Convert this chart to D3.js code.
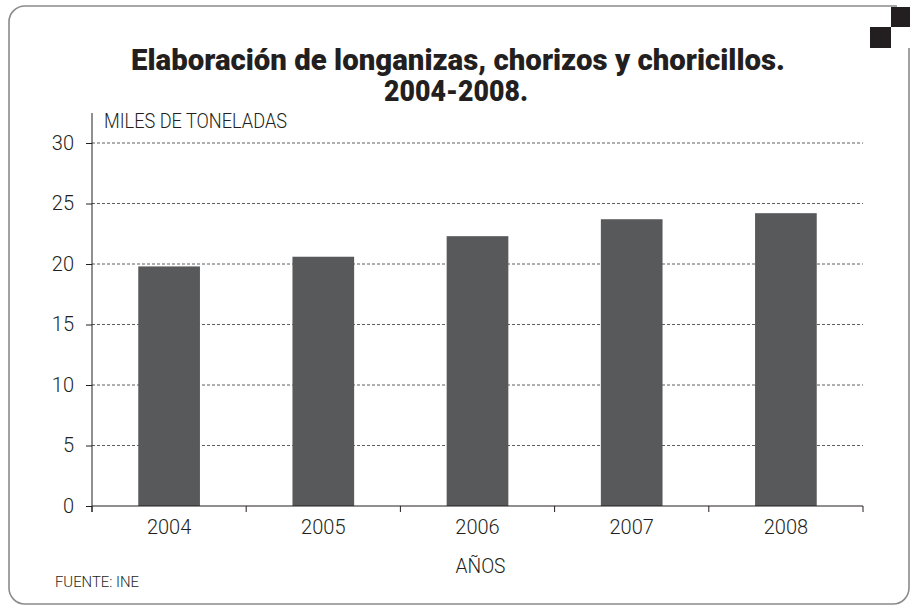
<!DOCTYPE html>
<html>
<head>
<meta charset="utf-8">
<script src="https://cdn.jsdelivr.net/npm/d3@7"></script>
<style>
  html, body { margin: 0; padding: 0; background: #fff; }
  svg { display: block; }
</style>
</head>
<body>
<script>
// data
var years = ["2004", "2005", "2006", "2007", "2008"];
var toneladas = [19.8, 20.6, 22.3, 23.7, 24.2];
var yTicks = [0, 5, 10, 15, 20, 25, 30];

var titleLines = ["Elaboración de longanizas, chorizos y choricillos.", "2004-2008."];
var yLabel = "MILES DE TONELADAS";
var xLabel = "AÑOS";
var fuente = "FUENTE: INE";

var W = 914, H = 606;
var margin = {top: 143, right: 51, bottom: 100, left: 92};
var width = W - margin.left - margin.right,
    height = H - margin.top - margin.bottom;

var font = "Roboto, 'Liberation Sans', sans-serif";
var ink = "#231f20";

var svg = d3.select("body").append("svg")
    .attr("width", W)
    .attr("height", H);

// frame with rounded corners
svg.append("path")
    .attr("d", "M9,22 A16,16 0 0 1 25,6 L897,6")
    .attr("fill", "none").attr("stroke", "#8a8a8a").attr("stroke-width", 1.6);
svg.append("path")
    .attr("d", "M909,48 L909,588 A16,16 0 0 1 893,604 L25,604 A16,16 0 0 1 9,588 L9,22")
    .attr("fill", "none").attr("stroke", "#8a8a8a").attr("stroke-width", 1.6);

// two corner squares
svg.append("rect").attr("x", 891).attr("y", 7).attr("width", 19).attr("height", 20).attr("fill", ink);
svg.append("rect").attr("x", 870).attr("y", 27).attr("width", 21).attr("height", 21).attr("fill", ink);

// title (heavy, condensed)
var title = svg.append("g").attr("id", "title");
title.append("text")
    .attr("x", 458).attr("y", 70)
    .attr("text-anchor", "middle")
    .style("font-family", font).style("font-weight", 900).style("font-size", "29px")
    .attr("textLength", 654).attr("lengthAdjust", "spacingAndGlyphs")
    .attr("fill", ink)
    .text(titleLines[0]);
title.append("text")
    .attr("x", 456).attr("y", 101)
    .attr("text-anchor", "middle")
    .style("font-family", font).style("font-weight", 900).style("font-size", "29px")
    .attr("textLength", 144).attr("lengthAdjust", "spacingAndGlyphs")
    .attr("fill", ink)
    .text(titleLines[1]);

var g = svg.append("g")
    .attr("transform", "translate(" + margin.left + "," + margin.top + ")");

var x = d3.scaleBand()
    .domain(years)
    .range([0, width])
    .paddingInner(0.6)
    .paddingOuter(0.3);

var y = d3.scaleLinear()
    .domain([0, 30])
    .range([height, 0]);

// dashed gridlines
g.append("g").attr("class", "grid")
  .selectAll("line")
  .data(yTicks.filter(function(d) { return d > 0; }))
  .enter().append("line")
    .attr("x1", 0).attr("x2", width)
    .attr("y1", function(d) { return y(d); })
    .attr("y2", function(d) { return y(d); })
    .attr("stroke", "#5f5f5f")
    .attr("stroke-width", 1)
    .attr("stroke-dasharray", "3,2");

// bars
g.append("g").attr("class", "bars")
  .selectAll("rect")
  .data(years)
  .enter().append("rect")
    .attr("x", function(d) { return x(d); })
    .attr("width", x.bandwidth())
    .attr("y", function(d, i) { return y(toneladas[i]); })
    .attr("height", function(d, i) { return height - y(toneladas[i]); })
    .attr("fill", "#58595b");

// y axis
var yAxis = g.append("g")
    .call(d3.axisLeft(y).tickValues(yTicks).tickSize(6).tickPadding(12));
yAxis.select(".domain").remove();
yAxis.selectAll(".tick line").attr("stroke", ink);
yAxis.selectAll(".tick text")
    .attr("fill", ink)
    .style("font-family", font).style("font-weight", 300).style("font-size", "20px");
// axis line runs up past the 30 tick to the unit label
g.append("line")
    .attr("x1", 0).attr("x2", 0)
    .attr("y1", y(30) - 30).attr("y2", height + 6)
    .attr("stroke", ink).attr("stroke-width", 1);

// x axis
var xAxis = g.append("g")
    .attr("transform", "translate(0," + height + ")")
    .call(d3.axisBottom(x).tickSize(0).tickPadding(14));
xAxis.select(".domain").attr("stroke", ink).attr("d", "M0,0H" + width);
xAxis.selectAll(".tick text")
    .attr("fill", ink)
    .style("font-family", font).style("font-weight", 300).style("font-size", "20px");
// ticks between categories
xAxis.selectAll(".sep")
    .data(d3.range(years.length + 1))
    .enter().append("line")
    .attr("class", "sep")
    .attr("x1", function(i) { return i * x.step(); })
    .attr("x2", function(i) { return i * x.step(); })
    .attr("y1", 0).attr("y2", 6)
    .attr("stroke", ink);

// labels
g.append("text")
    .attr("x", 12).attr("y", y(30) - 15)
    .style("font-family", font).style("font-weight", 300).style("font-size", "20px")
    .attr("textLength", 183).attr("lengthAdjust", "spacingAndGlyphs")
    .attr("fill", ink)
    .text(yLabel);

g.append("text")
    .attr("x", x("2006") + x.bandwidth() / 2 + 3)
    .attr("y", height + 67)
    .attr("text-anchor", "middle")
    .style("font-family", font).style("font-weight", 300).style("font-size", "20px")
    .attr("textLength", 50).attr("lengthAdjust", "spacingAndGlyphs")
    .attr("fill", ink)
    .text(xLabel);

svg.append("text")
    .attr("x", 55).attr("y", 587)
    .style("font-family", font).style("font-weight", 300).style("font-size", "15px")
    .attr("textLength", 84).attr("lengthAdjust", "spacingAndGlyphs")
    .attr("fill", ink)
    .text(fuente);
</script>
</body>
</html>
